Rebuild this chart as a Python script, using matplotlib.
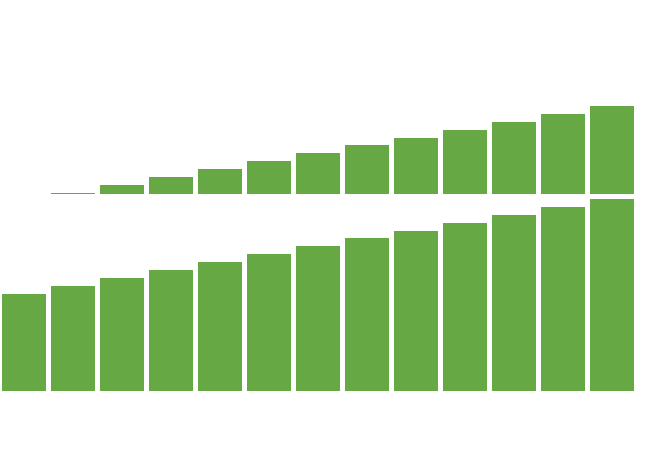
import numpy as np
import matplotlib
matplotlib.use("Agg")
import matplotlib.pyplot as plt

# data (both panels show the same series,
# the top one is cut off at a higher baseline)
positions = list(range(13))
values = [97, 105, 113, 121, 129, 137, 145, 153, 160, 168, 176, 184, 192]
top_floor = 104

W, H = 659, 469
fig = plt.figure(figsize=(W / 100, H / 100), dpi=100)

color = '#66a844'
px_per_unit = 49.0
x0 = -0.45 - 2 / px_per_unit
x1 = x0 + W / px_per_unit


def panel(rect_px, ylim):
    left, bottom, width, height = rect_px
    ax = fig.add_axes([left / W, 1 - (bottom) / H, width / W, height / H])
    ax.bar(positions, values, width=0.9, color=color, linewidth=0)
    ax.set_xlim(x0, x1)
    ax.set_ylim(*ylim)
    ax.axis('off')
    return ax


# bottom panel: baseline at y=391 px, 1 unit = 1 px
panel((0, 391, W, 195), (0, 195))
# top panel: baseline at y=194 px
panel((0, 194, W, 180), (top_floor, top_floor + 180))

fig.savefig('out.png', dpi=100)
